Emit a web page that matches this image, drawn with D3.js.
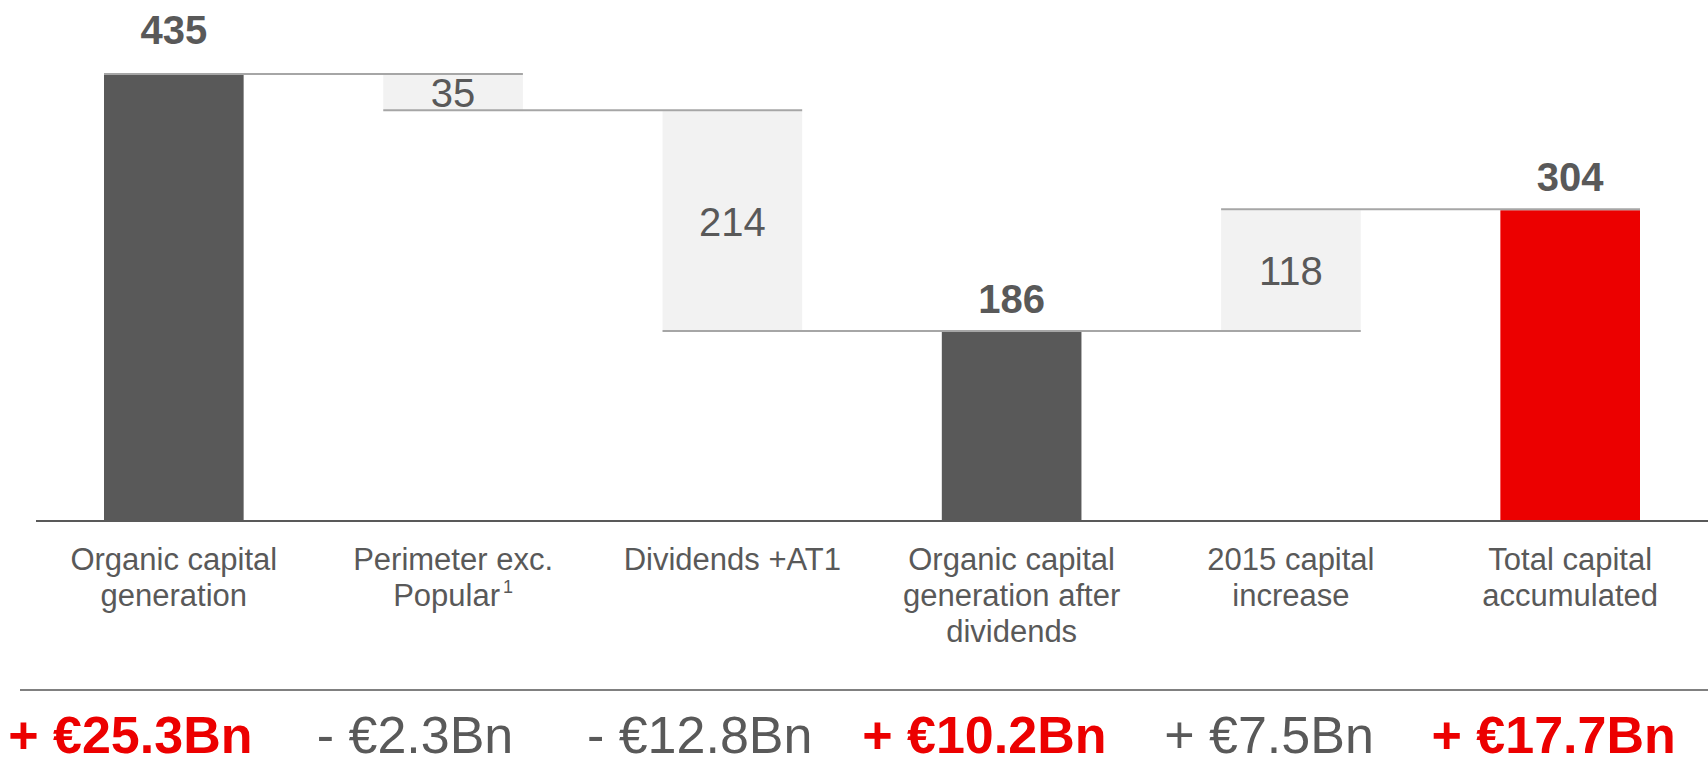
<!DOCTYPE html>
<html>
<head>
<meta charset="utf-8">
<script src="https://cdn.jsdelivr.net/npm/d3@7"></script>
<style>
  html, body { margin: 0; padding: 0; background: #fff; }
  svg { display: block; font-family: "Liberation Sans", Arial, sans-serif; }
</style>
</head>
<body>
<script>
// chart data
const categories = ["organic", "perimeter", "dividends", "afterDiv", "increase", "total"];
const labelLines = [
  ["Organic capital", "generation"],
  ["Perimeter exc.", "Popular"],
  ["Dividends +AT1"],
  ["Organic capital", "generation after", "dividends"],
  ["2015 capital", "increase"],
  ["Total capital", "accumulated"]
];
const footnoteMarks = ["", "1", "", "", "", ""];
const values = [435, -35, -214, 186, 118, 304];
const kinds = ["total", "delta", "delta", "total", "delta", "total"];
const amounts = ["+ €25.3Bn", "- €2.3Bn", "- €12.8Bn", "+ €10.2Bn", "+ €7.5Bn", "+ €17.7Bn"];
const amountHighlight = [true, false, false, true, false, true];

const w = 1708, h = 765;
const baseY = 520;
const grey = "#595959", lightFill = "#f2f2f2", red = "#ec0000", lineGrey = "#a6a6a6";

// running totals -> [start, end] for each bar
let running = 0;
const bars = values.map((v, i) => {
  let lo, hi;
  if (kinds[i] === "total") { lo = 0; hi = v; running = v; }
  else { const next = running + v; lo = Math.min(running, next); hi = Math.max(running, next); running = next; }
  return { key: categories[i], v, lo, hi, kind: kinds[i], i, level: running };
});

const x = d3.scaleBand()
  .domain(categories)
  .range([104, 1640])
  .paddingInner(0.5)
  .paddingOuter(0);

const y = d3.scaleLinear()
  .domain([0, 435])
  .range([524, 75]);

const xAmt = d3.scaleBand().domain(categories).range([-12, 1696]);

const svg = d3.select("body").append("svg")
  .attr("width", w)
  .attr("height", h);

// bars (cut at the axis line)
svg.selectAll("rect.bar")
  .data(bars)
  .enter()
  .append("rect")
  .attr("class", "bar")
  .attr("x", d => x(d.key))
  .attr("y", d => y(d.hi))
  .attr("width", x.bandwidth())
  .attr("height", d => Math.min(y(d.lo), baseY) - y(d.hi))
  .attr("fill", (d, i) => d.kind === "delta" ? lightFill : (i === bars.length - 1 ? red : grey));

// connectors between consecutive bars
const links = bars.slice(0, -1).map((d, i) => ({ from: d.key, to: bars[i + 1].key, level: d.level }));
svg.selectAll("line.link")
  .data(links)
  .enter()
  .append("line")
  .attr("x1", d => x(d.from))
  .attr("x2", d => x(d.to) + x.bandwidth())
  .attr("y1", d => y(d.level) - 1)
  .attr("y2", d => y(d.level) - 1)
  .attr("stroke", lineGrey)
  .attr("stroke-width", 2);

// axis baseline
svg.append("line")
  .attr("x1", 36).attr("x2", w)
  .attr("y1", baseY + 1).attr("y2", baseY + 1)
  .attr("stroke", grey)
  .attr("stroke-width", 2);

// value labels
svg.selectAll("text.val")
  .data(bars)
  .enter()
  .append("text")
  .attr("class", "val")
  .attr("x", d => x(d.key) + x.bandwidth() / 2)
  .attr("y", d => d.kind === "total" ? y(d.hi) - (d.i === 0 ? 31 : 19) : (y(d.lo) + y(d.hi)) / 2 + 14)
  .attr("text-anchor", "middle")
  .attr("fill", grey)
  .attr("font-size", 40)
  .attr("font-weight", d => d.kind === "total" ? "bold" : "normal")
  .text(d => Math.abs(d.v));

// category labels
const cat = svg.selectAll("text.cat")
  .data(bars)
  .enter()
  .append("text")
  .attr("class", "cat")
  .attr("x", d => x(d.key) + x.bandwidth() / 2)
  .attr("y", 570)
  .attr("text-anchor", "middle")
  .attr("fill", grey)
  .attr("font-size", 31);

cat.each(function(d, i) {
  const t = d3.select(this);
  labelLines[i].forEach((line, j) => {
    t.append("tspan")
      .attr("x", x(d.key) + x.bandwidth() / 2)
      .attr("dy", j === 0 ? 0 : 36)
      .text(line);
    if (j === labelLines[i].length - 1 && footnoteMarks[i]) {
      t.append("tspan").attr("font-size", 18).attr("dx", 3).attr("dy", -13).text(footnoteMarks[i]);
    }
  });
});

// divider above amounts
svg.append("line")
  .attr("x1", 20).attr("x2", w)
  .attr("y1", 690).attr("y2", 690)
  .attr("stroke", "#808080")
  .attr("stroke-width", 2);

// amounts row
svg.selectAll("text.amt")
  .data(bars)
  .enter()
  .append("text")
  .attr("class", "amt")
  .attr("x", d => xAmt(d.key) + xAmt.bandwidth() / 2)
  .attr("y", 753)
  .attr("text-anchor", "middle")
  .attr("font-size", 52)
  .attr("font-weight", (d, i) => amountHighlight[i] ? "bold" : "normal")
  .attr("fill", (d, i) => amountHighlight[i] ? red : grey)
  .text((d, i) => amounts[i]);
</script>
</body>
</html>
